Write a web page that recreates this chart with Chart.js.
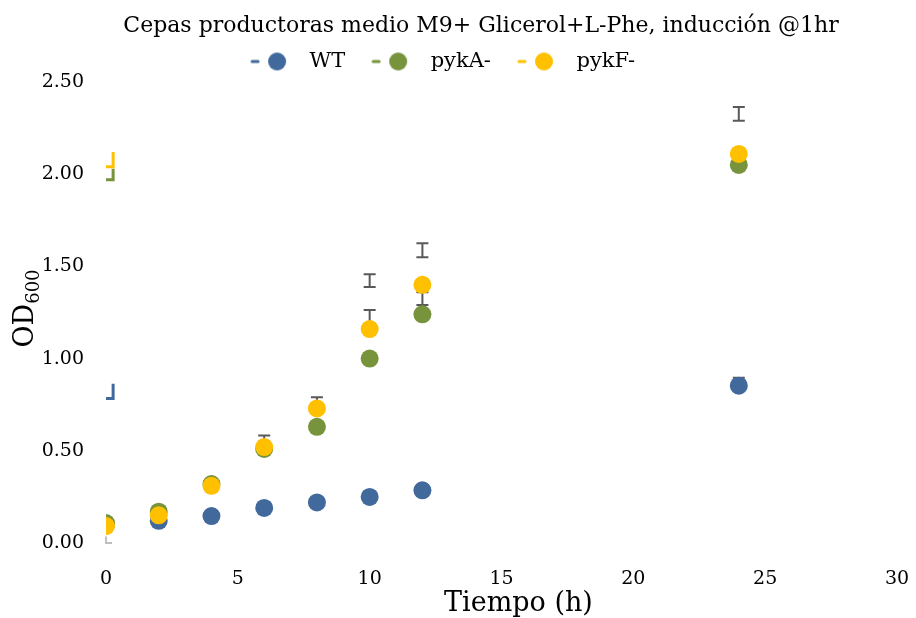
<!DOCTYPE html>
<html>
<head>
<meta charset="utf-8">
<script src="https://cdn.jsdelivr.net/npm/chart.js@4.4.0/dist/chart.umd.min.js"></script>
<style>
  html, body { margin: 0; padding: 0; background: #fff; }
  #wrap { width: 916px; height: 618px; }
</style>
</head>
<body>
<div id="wrap"><canvas id="odChart" width="916" height="618"></canvas></div>
<script>
// tiempos de muestreo (h)
const tiempos = [0, 2, 4, 6, 8, 10, 12, 24];
// OD600 por cepa
const wt   = [0.10, 0.12, 0.146, 0.19, 0.22, 0.25, 0.286, 0.853];
const pykA = [0.108, 0.17, 0.32, 0.51, 0.63, 1.00, 1.24, 2.05];
const pykF = [0.092, 0.15, 0.31, 0.52, 0.73, 1.16, 1.40, 2.11];
// barras de error (gris): tiempo, min, max
const errX  = [4, 6, 8, 10, 10, 12, 12, 24, 24];
const errLo = [0.28, 0.55, 0.75, 1.388, 1.19, 1.55, 1.29, 2.29, 0.86];
const errHi = [0.30, 0.583, 0.79, 1.458, 1.264, 1.625, 1.36, 2.365, 0.896];
// marcas sueltas junto al eje (tiempo vertical, min, max, color)
const marcaX  = [0.27, 0.27, 0.27, 0];
const marcaLo = [0.783, 1.97, 2.04, 0];
const marcaHi = [0.864, 2.03, 2.12, 0.035];
const marcaCol = ['#41699c', '#77933c', '#ffc000', '#bfbfbf'];
const xTicks = [0, 5, 10, 15, 20, 25, 30];

const titulo = 'Cepas productoras medio M9+ Glicerol+L-Phe, inducción @1hr';
const azul = '#41699c', verde = '#77933c', amarillo = '#ffc000';
const fuente = '"DejaVu Serif", serif';

function pts(ys) {
  return tiempos.map((t, i) => ({ x: t, y: ys[i] }));
}

// icono de leyenda: hueco + guion + circulo
const HUECO = 14;
function icono(color) {
  const c = document.createElement('canvas');
  c.width = 50 + HUECO; c.height = 20;
  const g = c.getContext('2d');
  g.strokeStyle = color; g.lineWidth = 3; g.lineCap = 'round';
  g.beginPath(); g.moveTo(HUECO + 3, 10); g.lineTo(HUECO + 9, 10); g.stroke();
  g.fillStyle = color;
  g.beginPath(); g.arc(HUECO + 28, 10, 9, 0, Math.PI * 2); g.fill();
  return c;
}

const barrasError = {
  id: 'barrasError',
  beforeDatasetsDraw(chart) {
    const { ctx, scales: { x, y } } = chart;
    ctx.save();
    ctx.strokeStyle = '#595959';
    ctx.lineWidth = 2;
    errX.forEach((t, i) => {
      const px = x.getPixelForValue(t);
      const y1 = y.getPixelForValue(errLo[i]);
      const y2 = y.getPixelForValue(errHi[i]);
      ctx.beginPath();
      ctx.moveTo(px, y1); ctx.lineTo(px, y2);
      ctx.moveTo(px - 6, y1); ctx.lineTo(px + 6, y1);
      ctx.moveTo(px - 6, y2); ctx.lineTo(px + 6, y2);
      ctx.stroke();
    });
    // marcas en forma de L junto a x=0
    marcaX.forEach((t, i) => {
      const px = x.getPixelForValue(t);
      const x0 = x.getPixelForValue(0);
      const y1 = y.getPixelForValue(marcaLo[i]);
      const y2 = y.getPixelForValue(marcaHi[i]);
      ctx.strokeStyle = marcaCol[i];
      ctx.lineWidth = i === 3 ? 2 : 3;
      ctx.beginPath();
      ctx.moveTo(px, y2); ctx.lineTo(px, y1);
      ctx.lineTo(t === 0 ? x0 + 6 : x0, y1);
      ctx.stroke();
    });
    ctx.restore();
  }
};

// titulo general y titulos de ejes (OD con subindice 600)
const titulos = {
  id: 'titulos',
  afterDraw(chart) {
    const { ctx, chartArea } = chart;
    ctx.save();
    ctx.fillStyle = '#000';
    ctx.textBaseline = 'middle';
    ctx.textAlign = 'center';
    ctx.font = '22px ' + fuente;
    ctx.fillText(titulo, 481, 26);
    ctx.font = '27px ' + fuente;
    ctx.fillText('Tiempo (h)', (chartArea.left + chartArea.right) / 2 + 17, 604);

    ctx.translate(33, (chartArea.top + chartArea.bottom) / 2 - 4);
    ctx.rotate(-Math.PI / 2);
    ctx.textAlign = 'left';
    ctx.textBaseline = 'alphabetic';
    ctx.font = '27px ' + fuente;
    const w1 = ctx.measureText('OD').width;
    ctx.font = '18px ' + fuente;
    const w2 = ctx.measureText('600').width;
    const x0 = -(w1 + w2) / 2;
    ctx.font = '27px ' + fuente;
    ctx.fillText('OD', x0, 0);
    ctx.font = '18px ' + fuente;
    ctx.fillText('600', x0 + w1, 6);
    ctx.restore();
  }
};

const serie = (label, data, color, order) => ({
  label, data: pts(data), order,
  backgroundColor: color, borderColor: color,
  pointRadius: 9, pointHoverRadius: 9, pointBorderWidth: 0,
  pointStyle: 'circle', showLine: false
});

new Chart(document.getElementById('odChart'), {
  type: 'scatter',
  data: {
    datasets: [
      serie('WT', wt, azul, 3),
      serie('pykA-', pykA, verde, 2),
      serie('pykF-', pykF, amarillo, 1)
    ]
  },
  options: {
    responsive: false,
    animation: false,
    layout: { padding: { left: 0, right: 19, top: 40, bottom: 0 } },
    plugins: {
      title: { display: false },
      legend: {
        position: 'top',
        labels: {
          color: '#000',
          font: { family: fuente, size: 21 },
          usePointStyle: true,
          pointStyleWidth: 50 + HUECO,
          padding: 11,
          generateLabels(chart) {
            const n = chart.data.datasets.length;
            return chart.data.datasets.map((d, i) => ({
              // espacios finales para desplazar el bloque a la izquierda
              text: i === n - 1 ? d.label + '    ' : d.label,
              fillStyle: d.backgroundColor,
              strokeStyle: d.backgroundColor,
              lineWidth: 0,
              pointStyle: icono(d.backgroundColor),
              datasetIndex: i,
              hidden: false
            }));
          }
        }
      },
      tooltip: { enabled: false }
    },
    scales: {
      x: {
        type: 'linear', min: 0, max: 30,
        grid: { display: false, drawTicks: false },
        border: { display: false },
        afterBuildTicks(s) { s.ticks = xTicks.map(v => ({ value: v })); },
        ticks: {
          color: '#000',
          font: { family: fuente, size: 19 },
          padding: 25
        },
        afterFit(s) { s.height = 75; s.paddingRight = 0; }
      },
      y: {
        min: 0, max: 2.5,
        grid: { display: false, drawTicks: false },
        border: { display: false },
        ticks: {
          stepSize: 0.5, color: '#000',
          font: { family: fuente, size: 19 },
          padding: 22,
          callback: v => v.toFixed(2)
        },
        afterFit(s) { s.width = 106; }
      }
    }
  },
  plugins: [barrasError, titulos]
});
</script>
</body>
</html>
